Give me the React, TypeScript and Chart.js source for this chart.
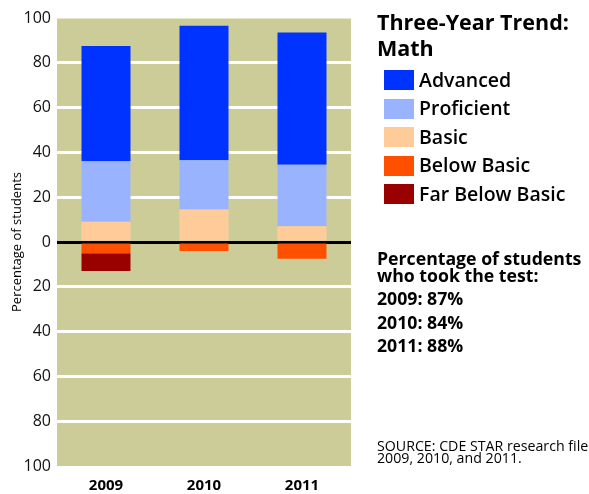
import React, { useEffect, useRef } from "react";
import { Chart, registerables } from "chart.js";

Chart.register(...registerables);

// ---- data ----
const years = ["2009", "2010", "2011"];
const advanced = [51.5, 60, 59];
const proficient = [27, 22, 27.5];
const basic = [9, 14.5, 7];
const belowBasic = [-5, -4, -7.5];
const farBelowBasic = [-8, 0, 0];
const yTickValues = [-100, -80, -60, -40, -20, 0, 20, 40, 60, 80, 100];
const testedPercent = [87, 84, 88];

const legendOrder = ["Advanced", "Proficient", "Basic", "Below Basic", "Far Below Basic"];
const COLORS: Record<string, string> = {
  Advanced: "#0033FF",
  Proficient: "#99B3FF",
  Basic: "#FFCC99",
  "Below Basic": "#FF5000",
  "Far Below Basic": "#990000",
};

const FONT = "'Open Sans', 'DejaVu Sans', sans-serif";

const bgPlugin = {
  id: "plotBg",
  beforeDraw(chart: any) {
    const { ctx, chartArea } = chart;
    if (!chartArea) return;
    ctx.save();
    ctx.fillStyle = "#CCCC99";
    ctx.fillRect(chartArea.left, chartArea.top, chartArea.right - chartArea.left, chartArea.bottom - chartArea.top);
    ctx.fillStyle = "rgba(255,255,255,0.5)";
    ctx.fillRect(chartArea.left, chartArea.top, chartArea.right - chartArea.left, 1);
    ctx.restore();
  },
};

export default function App() {
  const ref = useRef<HTMLCanvasElement | null>(null);

  useEffect(() => {
    if (!ref.current) return;
    const seriesMap: Record<string, number[]> = {
      Basic: basic,
      Proficient: proficient,
      Advanced: advanced,
      "Below Basic": belowBasic,
      "Far Below Basic": farBelowBasic,
    };
    const stackOrder = ["Basic", "Proficient", "Advanced", "Below Basic", "Far Below Basic"];
    const chart = new Chart(ref.current, {
      type: "bar",
      data: {
        labels: years,
        datasets: stackOrder.map((name) => ({
          label: name,
          data: seriesMap[name],
          backgroundColor: COLORS[name],
          borderWidth: 0,
          barPercentage: 1,
          categoryPercentage: 0.5,
        })),
      },
      options: {
        responsive: false,
        animation: false,
        layout: { padding: { top: 18, right: 238, left: 0, bottom: 0 } },
        plugins: { legend: { display: false }, tooltip: { enabled: false } },
        scales: {
          x: {
            stacked: true,
            grid: { display: false, drawTicks: false },
            border: { display: false },
            ticks: { color: "#000", font: { family: FONT, size: 15, weight: "bold" }, padding: 11 },
            afterFit(s: any) {
              s.height = 28;
            },
          },
          y: {
            stacked: true,
            min: -100,
            max: 100,
            afterBuildTicks(s: any) {
              s.ticks = yTickValues.map((v) => ({ value: v }));
            },
            ticks: {
              callback: (v: any) => String(Math.abs(Number(v))),
              color: "#111",
              font: { family: FONT, size: 16 },
              padding: 6,
            },
            grid: {
              drawTicks: false,
              lineWidth: 3,
              color: (c: any) => {
                const v = c.tick ? c.tick.value : null;
                if (v === 0) return "#000";
                if (v === 100 || v === -100) return "rgba(0,0,0,0)";
                return "#FFFFFF";
              },
            },
            border: { display: false },
            title: {
              display: true,
              text: "Percentage of students",
              color: "#000",
              font: { family: FONT, size: 13 },
              padding: { top: 9, bottom: 0 },
            },
            afterFit(s: any) {
              s.width = 57;
            },
          },
        },
      },
      plugins: [bgPlugin],
    } as any);
    return () => chart.destroy();
  }, []);

  const abs = (top: number, left: number, size: number, weight: number | string = "normal"): React.CSSProperties => ({
    position: "absolute",
    top,
    left,
    fontSize: size,
    lineHeight: `${size}px`,
    fontWeight: weight as any,
    fontFamily: FONT,
    color: "#000",
    whiteSpace: "nowrap",
  });

  return (
    <div style={{ position: "absolute", left: 0, top: 0, width: 589, height: 494, background: "#fff" }}>
      <canvas ref={ref} width={589} height={494} style={{ position: "absolute", left: 0, top: 0, width: 589, height: 494 }} />
      <div style={abs(30 - 0.888 * 21.5, 377, 21.5, "bold")}>Three-Year Trend:</div>
      <div style={abs(56 - 0.888 * 21.5, 377, 21.5, "bold")}>Math</div>
      {legendOrder.map((name, i) => (
        <React.Fragment key={name}>
          <div
            style={{
              position: "absolute",
              left: 384,
              top: 70 + i * 28.5,
              width: 30,
              height: 20,
              background: COLORS[name],
            }}
          />
          <div style={abs(87 + i * 28.6 - 0.888 * 19.5, 419, 19.5, 600)}>{name}</div>
        </React.Fragment>
      ))}
      <div style={abs(266 - 0.888 * 17.7, 377, 17.7, "bold")}>Percentage of students</div>
      <div style={abs(282.3 - 0.888 * 17.7, 377, 17.7, "bold")}>who took the test:</div>
      {years.map((y, i) => (
        <div key={y} style={abs(306 + i * 23.5 - 0.888 * 17.7, 377, 17.7, "bold")}>
          {`${y}: ${testedPercent[i]}%`}
        </div>
      ))}
      <div style={abs(451.7 - 0.888 * 14.2, 377, 14.2)}>SOURCE: CDE STAR research file</div>
      <div style={abs(463.7 - 0.888 * 14.2, 377, 14.2)}>2009, 2010, and 2011.</div>
    </div>
  );
}
